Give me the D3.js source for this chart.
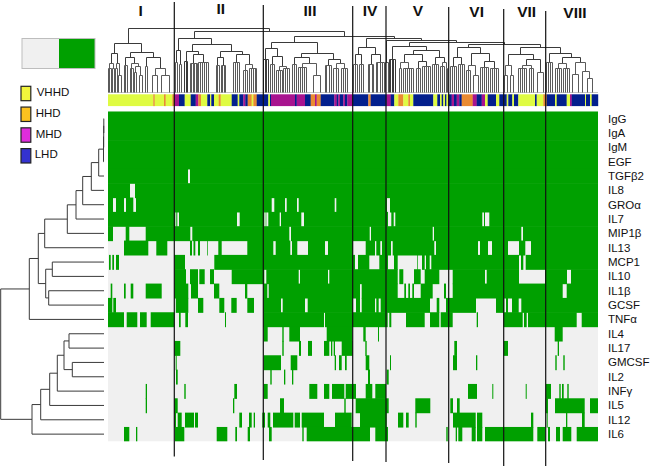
<!DOCTYPE html>
<html><head><meta charset="utf-8">
<script src="https://cdn.jsdelivr.net/npm/d3@7"></script>
<style>html,body{margin:0;padding:0;background:#fff}svg{display:block}text{font-family:"Liberation Sans",Arial,sans-serif}</style>
</head><body><svg id="c" width="657" height="466"></svg>
<script>
const rowLabels = ["IgG","IgA","IgM","EGF","TGFβ2","IL8","GROα","IL7","MIP1β","IL13","MCP1","IL10","IL1β","GCSF","TNFα","IL4","IL17","GMCSF","IL2","INFγ","IL5","IL12","IL6"];
const sampleCount = 490;
// rows 0-14: sample ranges where the marker is absent
const absentRuns = [
 [],[],[],[],
 [[80,82]],
 [[22,27]],
 [[5,8],[16,18],[25.3,28],[163.7,166.3],[177,178.7],[189,190.7],[226.7,228.3],[279,282]],
 [[67.3,68.3],[69.3,71],[129,131.7],[156.3,157.7],[158.3,160.3],[171.7,173],[193.3,196],[280,283.3],[285.7,287.3],[374.3,376],[377,381.3]],
 [[5,17.7],[21.3,37.7],[82.3,84.3],[181.3,183],[261.7,263],[324.7,326],[413.3,415]],
 [[0,16],[40.3,48.3],[59.3,82],[84,85.5],[87.3,90],[92,99.3],[100,110.3],[113.7,139.3],[165.3,167.7],[182.3,184],[189.3,200],[217,220],[245,257.7],[267,268.3],[272.3,274],[283,284.7],[326.3,328],[370,372],[380,384],[400,411],[417.3,423]],
 [[0,1],[2.7,4.3],[6,8],[11,66.3],[77,106.3],[247,250],[261.3,271.3],[280,286],[289.7,309.3],[310,314],[316.7,318],[321.7,323.3],[411,413],[415.3,417.7]],
 [[0,66.3],[78,82],[90,91.3],[96.7,102],[106,123.7],[156.3,158.3],[190.7,192],[220,221.3],[289.7,291.3],[295.3,306],[312.7,316.7],[331.3,344.7],[377,378.7],[411,437],[459,463]],
 [[0,2.7],[4.3,16],[17.7,22.7],[25.3,37.7],[53.7,66.3],[80.3,83],[90,106],[111.3,137],[139.3,155.3],[159.3,160.7],[252,253.7],[289.7,296.3],[298,300.3],[302,304.3],[306,312.7],[324.7,336],[338,344.7],[454.7,458.7]],
 [[4.3,5.3],[8,67.8],[80.3,90],[95.3,111.3],[116.3,123.3],[128.7,139.3],[146,155.3],[173,174.7],[197,199.7],[245,248],[252,253.7],[267,268.3],[270.7,272.7],[322,328.7],[331.3,338],[368,388],[396.3,398],[400,404],[410.7,413.3]],
 [[16,18.7],[29.3,32],[38.7,42.7],[66.3,71],[72.7,77.3],[80,117],[118,155.3],[216,217],[279.7,281.3],[283.3,298],[316.7,322],[331.3,332.7],[344.7,368.7],[370,395.3],[414.7,416],[418.7,420],[468.7,473.7]]
];
// rows 15-22: sample ranges where the marker is present
const presentRuns = [
 [[155.7,159.7],[174.3,175.7],[181.3,192],[218.7,244.3],[255.3,257.7],[270,271],[446.7,454.7]],
 [[66.3,72.3],[174.3,175.7],[191,193],[200,204],[216,221.3],[223,224.3],[225.7,227],[233.7,244.7],[257.3,258.7],[346.3,349],[395.7,400],[449.7,451]],
 [[67.7,68.7],[155.7,173],[182.7,189.3],[226.7,228],[231,233.7],[237,238.7],[257.7,261.3],[282,283],[345,349],[368,369.3],[447.3,448.7],[455.3,456.7]],
 [[68,69.7],[162.3,163.7],[176,177.3],[184,185.3],[260,262],[278.7,280.7]],
 [[37.7,39],[76.3,77.7],[126.3,129],[155.7,159.7],[201.3,209.3],[216,221.3],[224,236.3],[237.7,248],[257.7,264.3],[267.3,278],[360,369],[384.3,385.3],[417.7,418.7],[438,443],[451.3,452.7],[454,455.7],[459.3,460.7]],
 [[37.7,39],[66.3,69.7],[125,126.3],[172,176],[236.3,237.7],[247.7,280.7],[307.3,322.3],[342.3,345],[349,351.7],[437.7,440],[447,476.7],[482,490]],
 [[66.3,68],[69.7,73.7],[77,86],[87,90],[131.3,134],[141,143.7],[145.7,147],[154.3,157],[159.7,162.3],[165,185.3],[186.7,192],[193.7,216],[227,243.7],[252,278.7],[290,295.3],[298,300.7],[307.3,308.7],[345,367.7],[369,374.3],[423,425.3],[438.7,439.7],[458,459.3],[474,476.7]],
 [[16,21.3],[28,29.3],[67,76.3],[108.7,119.3],[127.3,129],[139.7,142],[161,163.7],[194.3,195.7],[198.7,262],[267.3,280],[338.3,339.7],[347.7,349],[350.3,354.3],[363.7,367.7],[369,374.3],[377,425.3],[429.3,437.3],[440,442],[448,452],[454.7,463.3],[468.7,490]]
];
const groupNames = ["VHHD","HHD","MHD","LHD"];
const legendColors = ["#f2f53c","#fbc21f","#e02cdc","#3432d0"];
const barColors = ["#dffb42","#e98a32","#a8138f","#031f8d"];
// sample annotation: [group index, last sample of the run]
const annotationRuns = [[0,45.3],[1,46.7],[0,56],[1,57.7],[0,64.3],[1,66],[2,71],[3,76.7],[0,82.7],[3,87.7],[2,90.3],[1,93],[0,99.3],[3,102],[0,103.3],[3,106],[0,110.7],[1,112.7],[0,123.7],[3,129.7],[0,131.3],[3,135.3],[2,137.3],[3,139.7],[1,143.7],[0,145.3],[1,148.7],[3,160.3],[0,162],[3,163],[2,187],[3,188.7],[2,197],[3,202.7],[1,207],[2,208.7],[1,212.7],[3,226.3],[2,228.7],[3,230.3],[2,232],[3,235.3],[2,237],[3,239.3],[2,244],[3,260.3],[1,262.7],[3,278.7],[2,282.7],[3,286.3],[0,290.3],[1,295.3],[0,300.3],[1,302],[0,305.3],[3,325.3],[0,329.3],[3,332],[0,333.7],[3,335.3],[0,337],[3,338.5],[0,340.3],[3,343.7],[2,346],[3,348.7],[2,351.3],[3,353.7],[1,364.7],[2,368.7],[3,373.7],[2,377],[0,379.7],[3,388],[0,391.3],[3,398.7],[0,400.3],[3,404.3],[0,406],[3,410.3],[0,427],[3,428.7],[0,435.3],[1,438.7],[3,447],[0,448.7],[3,458.7],[0,462],[2,463.7],[3,477],[0,478],[3,482],[0,483.7],[3,490]];
const clusterNames = ["I","II","III","IV","V","VI","VII","VIII"];
const clusterLabelAt = [32.7,112.7,202,262,310,368.7,418.7,467];
const clusterLabelDrop = [3.5,2,3.5,3.5,3.5,5,5,6];
const clusterCuts = [[66.3,2,456.5],[155.3,5,460],[244.7,6,461],[278,6,462],[340.7,7,463],[395.7,9,466],[437.7,11,466]];

// sample dendrogram: [merge height, ...children], leaves are sample indices
const clusterI=[49,[39,[29,[24,0,1.5,3],[24,4.5,6]],[29,[24,7.5,9],[17,10,13]]],[40,[35,[27,16,17.5,19],[29,[24,22,23.5,25],[26,[20,26.5,28.5],[17,31,34]]]],[34,[26,37,39],[24,[17,44.5,49.5],[17,53,61]]]]];
const clusterII=[53.7,[42,[30,67.5,69],[28,71,73]],[48,[41,[31,76.5,78,79.5],[37,[29,82,83.5,85,86.5,88,89],[30,90.5,92.5,94.5,96.5,98.5,100]]],[41,[35,[27,108,109.5,111],[27,113,114.5,116,117.5]],[38,[30,125,127,129,131],[28,[22,135.5,137.5,139.5],[24,141,143,145,147,148.5]]]]]];
const clusterIII=[50,[44,[32,155.5,157,158.5,160],[36,[28,162,164,166],[26,[22,168,170,172,174],[24,175.5,177,179,181]]]],[38.7,[34.7,[28,184,186,188],[29,[25,190,192,194,196,198],[17,205,212]]],[33,[27,217,219,221,223],[29,[24,226,228,230],[24,233,235,237,239]]]]];
const clusterIV=[45,[37,[28,245,247,249],[28,251,253,255]],[37,[28,260,262,264,266],[30,268,270,272,274,276]]];
const clusterV=[45.3,[32,281,282.5,284,285.5,287],[41.3,[37,[30,[24,291,293],[24,295,297,299,301,303,305]],[31,[24,308,310,312],[26,314,316,318,320,322]]],[35,[28,324,326,328,330],[30,[26,332,334,336],[24,338,339.5]]]]];
const clusterVI=[44.7,[34,[26,342,344,346,348],[28,350,352,354,356]],[38.7,[27,[22,358,360,362],[17,365,370]],[31,[25,372,374,376,378,380],[24,382,384,386,388,390]]]];
const clusterVII=[38,[27,[17,396,399],[17,402,405]],[33,[27,[24,410,412,414,416,418],[24,421,423,425]],[20,429,435]]];
const clusterVIII=[38.7,[30,438.5,440.5,442.5,444.5],[34,[29,[24,447,449,451,453],[24,455,457,459,461]],[30,[18,464,470],[21,474,[14,479,484]]]]];
const smallCluster=[30,277.5,280];
const sampleTree=[63.3,clusterI,[61,clusterII,[56,clusterIII,[53.7,clusterIV,[52,smallCluster,[50,clusterV,[48,clusterVI,[44.7,clusterVII,clusterVIII]]]]]]]];

// marker dendrogram: [merge distance, ...children], leaves are row indices
const markerUpper=[59.3,[36.7,[28,[21.3,[12.7,[5.3,[0.5,[0.3,[0.2,0,1],2],3],4],5],6],7],8],9];
const markerMiddle=[58.3,[51.7,10,11],[55.3,12,13]];
const markerLower=[72,[63.3,[54.3,[46.7,[40,[35,15,16],[31.7,17,18]],19],20],21],22];
const markerTree=[103.3,[74.7,[65.7,markerUpper,markerMiddle],14],markerLower];

const svg=d3.select("#c");
const hm={l:108,r:598,t:111.5,b:441.3};
const x=d3.scaleLinear().domain([0,sampleCount]).range([hm.l,hm.r]);
const rowY=d3.scaleBand().domain(d3.range(rowLabels.length)).range([hm.t,hm.b]);
const GREEN="#00a000",GREY="#f0f0f0";

function complement(runs){const out=[];let p=0;runs.forEach(([a,b])=>{if(a>p)out.push([p,a]);p=b;});if(p<sampleCount)out.push([p,sampleCount]);return out;}
const onRuns=[...absentRuns.map(complement),...presentRuns];
svg.append("rect").attr("x",hm.l).attr("y",hm.t).attr("width",hm.r-hm.l).attr("height",hm.b-hm.t).attr("fill",GREY);
svg.append("g").selectAll("g").data(onRuns).join("g").each(function(runs,i){
 d3.select(this).selectAll("rect").data(runs).join("rect")
  .attr("x",d=>x(d[0])).attr("width",d=>x(d[1])-x(d[0]))
  .attr("y",rowY(i)).attr("height",rowY.bandwidth()+(i<onRuns.length-1?0.6:0)).attr("fill",GREEN);
});

// annotation bar
let prev=0;
const annot=annotationRuns.map(([g,e])=>{const r={g,s:prev,e};prev=e;return r;});
svg.append("g").selectAll("rect").data(annot).join("rect")
 .attr("x",d=>x(d.s)).attr("width",d=>x(d.e)-x(d.s)+0.2).attr("y",94.3).attr("height",11.8).attr("fill",d=>barColors[d.g]);

function layoutTree(data){
 const root=d3.hierarchy(data,d=>Array.isArray(d)?d.slice(1):null);
 root.eachAfter(n=>{
  if(n.children){const c=n.children;n.pos=(c[0].pos+c[c.length-1].pos)/2;n.h=n.data[0];}
  else{n.pos=n.data;n.h=0;}
 });
 return root;
}
// sample dendrogram
const topY=d3.scaleLinear().domain([0,67]).range([92,25]);
const snapX=s=>Math.floor(x(s))+0.5, snapY=h=>Math.floor(topY(h))+0.5;
const topRoot=layoutTree(sampleTree);
const gt=svg.append("g").attr("fill","none");
gt.append("line").attr("x1",hm.l).attr("x2",hm.r).attr("y1",92.5).attr("y2",92.5).attr("stroke","#c4c4c4");
gt.selectAll("path").data(topRoot.descendants().filter(n=>n.children)).join("path")
 .attr("stroke",n=>n.h>30?"#3a3a3a":"#5a5a5a").attr("stroke-width",1)
 .attr("d",n=>{
  const c=n.children,Y=snapY(n.h);
  let s=`M${snapX(c[0].pos)},${Y}H${snapX(c[c.length-1].pos)}`;
  c.forEach(k=>{s+=`M${snapX(k.pos)},${Y}V${snapY(k.h)}`;});
  return s;
 });

// marker dendrogram
const leftX=d3.scaleLinear().domain([0,103.3]).range([104,0.7]);
const rowCenter=i=>rowY(Math.floor(i))+rowY.bandwidth()/2+(i-Math.floor(i))*rowY.step();
const leftRoot=layoutTree(markerTree);
svg.append("g").attr("fill","none").selectAll("path").data(leftRoot.descendants().filter(n=>n.children)).join("path")
 .attr("stroke","#3a3a3a").attr("stroke-width",1)
 .attr("d",n=>{
  const c=n.children,X=leftX(n.h);
  let s=`M${X},${rowCenter(c[0].pos)}V${rowCenter(c[c.length-1].pos)}`;
  c.forEach(k=>{s+=`M${X},${rowCenter(k.pos)}H${leftX(k.h)}`;});
  return s;
 });

// row labels
svg.append("g").selectAll("text").data(rowLabels).join("text")
 .attr("x",608).attr("y",(d,i)=>rowY(i)+rowY.bandwidth()/2+4).attr("font-size",11.5).attr("fill","#111").text(d=>d);

// cluster cuts and names
svg.append("g").selectAll("line").data(clusterCuts).join("line")
 .attr("x1",d=>x(d[0])).attr("x2",d=>x(d[0])).attr("y1",d=>d[1]).attr("y2",d=>d[2]).attr("stroke","#111").attr("stroke-width",1.2);
svg.append("g").selectAll("text").data(clusterNames).join("text")
 .attr("x",(d,i)=>x(clusterLabelAt[i])).attr("y",(d,i)=>12+clusterLabelDrop[i]).attr("text-anchor","middle")
 .attr("font-size",15.5).attr("font-weight","bold").attr("fill","#111").text(d=>d);

// colour key
svg.append("rect").attr("x",22).attr("y",38.5).attr("width",37).attr("height",30).attr("fill",GREY);
svg.append("rect").attr("x",59).attr("y",38.5).attr("width",36).attr("height",30).attr("fill",GREEN);
svg.append("rect").attr("x",22).attr("y",38.5).attr("width",73).attr("height",30).attr("fill","none").attr("stroke","#bdbdbd");
// group legend
const legY=d3.scalePoint().domain(groupNames).range([86,148.3]);
svg.append("g").selectAll("rect").data(groupNames).join("rect")
 .attr("x",21).attr("y",d=>legY(d)+0.3).attr("width",9.8).attr("height",14.4).attr("fill",(d,i)=>legendColors[i]).attr("stroke","#222").attr("stroke-width",1.2);
svg.append("g").selectAll("text").data(groupNames).join("text")
 .attr("x",(d,i)=>[36.7,35.7,35.7,34.7][i]).attr("y",d=>legY(d)+10).attr("font-size",11.5).attr("fill","#111").text(d=>d);
</script></body></html>
